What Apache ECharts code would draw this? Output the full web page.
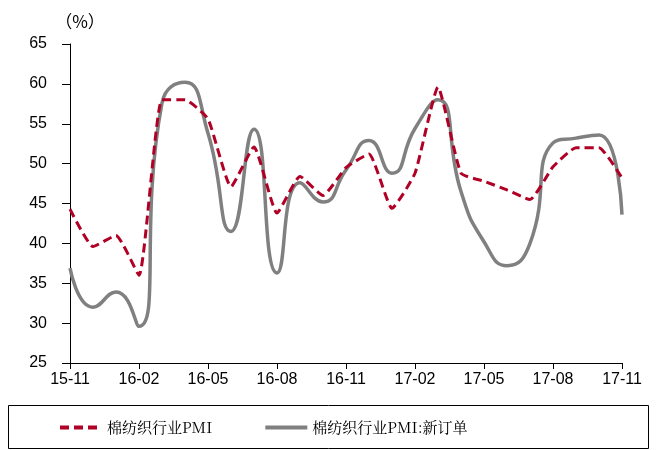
<!DOCTYPE html>
<html><head><meta charset="utf-8">
<script src="https://cdn.jsdelivr.net/npm/echarts@6/dist/echarts.min.js"></script>
<style>html,body{margin:0;padding:0;background:#fff}#c{width:658px;height:450px}</style>
</head><body><div id="c"></div>
<script>
var categories = ['15-11','15-12','16-01','16-02','16-03','16-04','16-05','16-06','16-07','16-08','16-09','16-10','16-11','16-12','17-01','17-02','17-03','17-04','17-05','17-06','17-07','17-08','17-09','17-10','17-11'];
var pmi = [44.3,39.6,41.0,36.0,58.0,58.0,55.6,47.1,52.1,43.8,48.4,46.0,49.5,51.2,44.4,48.8,59.6,48.8,47.8,46.7,45.5,49.6,52.0,52.0,48.2];
var newOrders = [36.9,32.0,33.9,29.6,57.6,60.2,53.8,41.5,54.3,36.3,47.6,45.2,49.2,52.9,48.8,54.4,58.0,46.5,40.2,37.2,40.0,52.6,53.2,53.6,43.6];
var seriesNames = ['棉纺织行业PMI','棉纺织行业PMI:新订单'];
var yTicks = {min:25, max:65, interval:5};

var chart = echarts.init(document.getElementById('c'), null, {renderer:'canvas'});
chart.setOption({
  animation:false,
  backgroundColor:'#fff',
  grid:{left:70, right:36, top:44, bottom:87},
  xAxis:{
    type:'category', data:categories, boundaryGap:false,
    axisLine:{lineStyle:{color:'#000', width:1}},
    axisTick:{show:true, interval:2, length:6, lineStyle:{color:'#000'}},
    axisLabel:{interval:2, color:'#000', fontSize:16, fontFamily:'Liberation Sans, Arial', margin:9},
    splitLine:{show:false}
  },
  yAxis:{
    type:'value', min:yTicks.min, max:yTicks.max, interval:yTicks.interval,
    name:'（%）', nameLocation:'end', nameGap:14,
    nameTextStyle:{color:'#000', fontSize:17, fontFamily:'Noto Sans CJK SC', align:'center', padding:[0,0,0,20]},
    axisLine:{show:true, lineStyle:{color:'#000', width:1}},
    axisTick:{show:true, length:8, lineStyle:{color:'#000'}},
    axisLabel:{color:'#000', fontSize:16, fontFamily:'Liberation Sans, Arial', margin:23},
    splitLine:{show:false}
  },
  legend:{
    bottom:10, left:53, itemGap:51, itemWidth:42, itemHeight:10,
    itemStyle:{color:'transparent', borderColor:'transparent', borderWidth:0},
    lineStyle:{width:4},
    textStyle:{color:'#000', fontSize:15, fontFamily:'Noto Serif CJK SC, Noto Sans CJK SC, serif'},
    data:seriesNames
  },
  graphic:[{type:'rect', shape:{x:8.5, y:405.5, width:640, height:43}, style:{fill:'none', stroke:'#000', lineWidth:1}}],
  series:[
    {name:seriesNames[0], type:'line', data:pmi, symbol:'none', smooth:0.15,
     lineStyle:{color:'#B00026', width:3, type:[9,5]}, itemStyle:{color:'#B00026'}, z:3},
    {name:seriesNames[1], type:'line', data:newOrders, symbol:'none', smooth:0.55,
     lineStyle:{color:'#808080', width:3.5}, itemStyle:{color:'#808080'}, z:2}
  ]
});
</script></body></html>
